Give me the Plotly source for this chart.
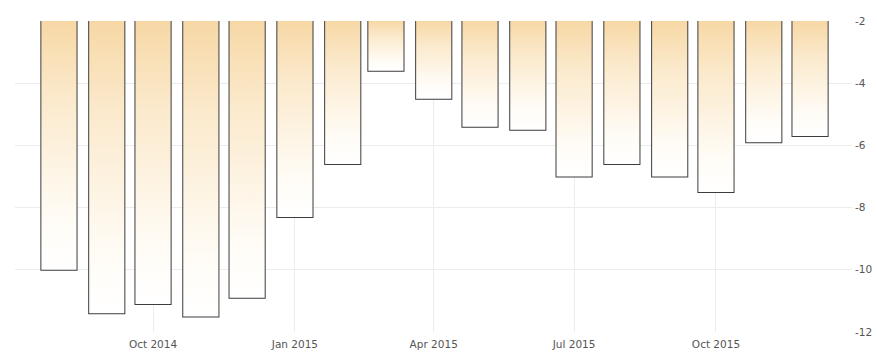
import datetime as dt
import plotly.graph_objects as go

# Monthly values, Aug 2014 - Dec 2015
months = ["2014-08", "2014-09", "2014-10", "2014-11", "2014-12",
          "2015-01", "2015-02", "2015-03", "2015-04", "2015-05", "2015-06",
          "2015-07", "2015-08", "2015-09", "2015-10", "2015-11", "2015-12"]
values = [-10.0, -11.4, -11.1, -11.5, -10.9,
          -8.3, -6.6, -3.6, -4.5, -5.4, -5.5,
          -7.0, -6.6, -7.0, -7.5, -5.9, -5.7]
baseline = -2

x_tick_vals = ["2014-10-01", "2015-01-01", "2015-04-01", "2015-07-01", "2015-10-01"]
x_tick_text = ["Oct 2014", "Jan 2015", "Apr 2015", "Jul 2015", "Oct 2015"]
y_tick_vals = [-2, -4, -6, -8, -10, -12]
y_tick_text = ["-2", "-4", "-6", "-8", "-10", "-12"]

dates = [dt.datetime.strptime(m + "-01", "%Y-%m-%d") for m in months]
half = dt.timedelta(days=11.4)
bar_width_ms = 2 * half.total_seconds() * 1000

fig = go.Figure()

# gradient fill for each bar (orange at top fading to white at the bottom)
for d, v in zip(dates, values):
    fig.add_trace(go.Scatter(
        x=[d - half, d + half, d + half, d - half, d - half],
        y=[baseline, baseline, v, v, baseline],
        mode="lines", line=dict(width=0), fill="toself",
        fillgradient=dict(type="vertical",
                          colorscale=[[0, "#ffffff"], [0.2, "#fffcf6"],
                                      [0.7, "#fbe9cb"], [1, "#f7d8a5"]]),
        hoverinfo="skip", showlegend=False,
    ))

# bar outlines
fig.add_trace(go.Bar(
    x=dates, y=[v - baseline for v in values], base=baseline,
    width=bar_width_ms,
    marker=dict(color="rgba(0,0,0,0)", line=dict(color="#3c3c3c", width=2)),
    showlegend=False,
))

left = dt.datetime(2014, 10, 1) - dt.timedelta(days=89.5)
right = dt.datetime(2015, 10, 1) + dt.timedelta(days=88.2)

fig.update_layout(
    width=877, height=356,
    margin=dict(l=15, r=25, t=21, b=24),
    paper_bgcolor="white", plot_bgcolor="white",
    font=dict(family="DejaVu Sans", size=10.5, color="#555555"),
    xaxis=dict(
        range=[left, right], type="date",
        tickvals=x_tick_vals, ticktext=x_tick_text,
        showgrid=True, gridcolor="#ececec", gridwidth=1,
        zeroline=False, showline=False, ticks="",
        ticklabelstandoff=4, automargin=False,
    ),
    yaxis=dict(
        range=[-12, -2], side="right",
        tickvals=y_tick_vals, ticktext=y_tick_text,
        showgrid=True, gridcolor="#ececec", gridwidth=1,
        zeroline=False, showline=False, ticks="",
        ticklabelstandoff=2, automargin=False,
    ),
)

fig.write_html("out.html")
